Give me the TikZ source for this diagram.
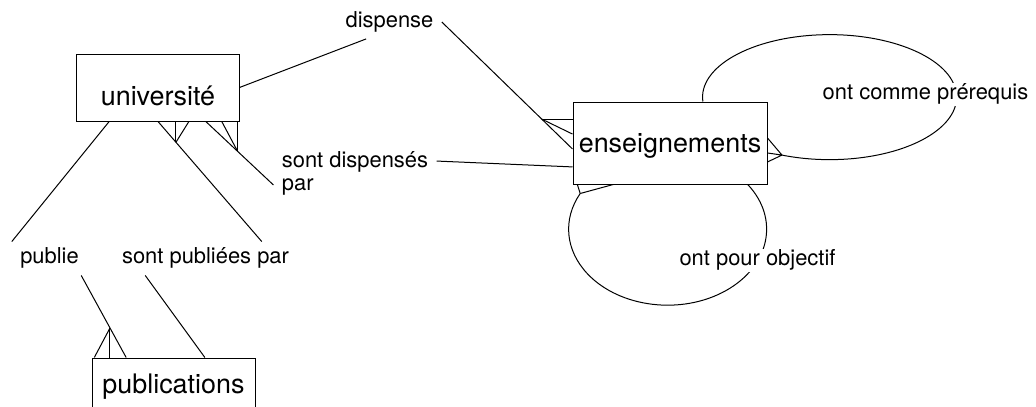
\documentclass[tikz,border=0pt]{standalone}
\usepackage{fontspec}
\setmainfont{TeX Gyre Heros}

\tikzset{
  entite/.style={draw, rectangle, inner sep=0pt, font=\fontsize{27}{30}\selectfont},
  lien/.style={inner xsep=8pt, inner ysep=6pt, text height=16pt, text depth=5pt, font=\fontsize{22}{23}\selectfont},
  boucle/.style={fill=white, inner xsep=2pt, inner ysep=1pt, text height=16pt, text depth=5pt, font=\fontsize{22}{23}\selectfont}
}

\begin{document}
\begin{tikzpicture}[x=1bp, y=-1bp, line width=1bp]
\useasboundingbox (0,0) rectangle (1036,406);
% entites
\node[entite, minimum width=162bp, minimum height=67bp, text height=35bp, text depth=0pt] (univ) at (158,87.5) {université};
\node[entite, minimum width=194bp, minimum height=82bp, text height=20bp, text depth=2bp] (ens) at (670,143) {enseignements};
\node[entite, minimum width=163bp, minimum height=56bp, text height=20bp, text depth=6bp] (pub) at (173.5,386) {publications};
% liens
\node[lien] (disp) at (389.5,22) {dispense};
\node[inner xsep=8pt, inner ysep=6pt, align=left, font=\fontsize{22}{23}\selectfont] (dispar) at (355,173) {sont dispensés\\par};
\node[lien] (publie) at (49.5,258.5) {publie};
\node[lien] (pubpar) at (205.5,258.5) {sont publiées par};

\draw (univ.east) -- ([xshift=-23.5pt]disp.south);
\draw (disp.east) -- ([yshift=-6pt]ens.west) coordinate[pos=0.765] (dispfoot);
\draw (dispfoot) -- (dispfoot -| ens.west);
\draw (dispfoot) -- ([yshift=9pt]ens.west);

\draw ([xshift=48pt]univ.south) -- ([yshift=-12pt]dispar.west) coordinate[pos=0.47] (dparfoot);
\draw (dparfoot) -- (dparfoot |- univ.south);
\draw (dparfoot) -- ([xshift=64pt]univ.south);
\draw ([yshift=12pt]dispar.east) -- ([yshift=-24pt]ens.west);

\draw ([xshift=-49pt]univ.south) -- (publie.north west);
\draw ([xshift=-6pt]publie.south east) -- ([xshift=-47.5pt]pub.north) coordinate[pos=0.64] (publiefoot);
\draw (publiefoot) -- (publiefoot |- pub.north);
\draw (publiefoot) -- ([xshift=-79.5pt]pub.north);

\draw (univ.south) -- ([xshift=56.5pt]pubpar.north) coordinate[pos=0.173] (pubparfoot);
\draw (pubparfoot) -- (pubparfoot |- univ.south);
\draw (pubparfoot) -- ([xshift=31pt]univ.south);
\draw ([xshift=-60.5pt]pubpar.south) -- ([xshift=31.5pt]pub.north);

% boucles
\draw ([xshift=33pt]ens.north) arc[start angle=176, end angle=472, x radius=127, y radius=62.5] coordinate (preqfoot);
\draw (preqfoot) -- ([yshift=5pt]ens.east) (preqfoot) -- ([yshift=-10pt]ens.east) (preqfoot) -- ([yshift=-19pt]ens.east);
\node[boucle] (preq) at (925.5,94.5) {ont comme prérequis};
\draw ([xshift=78pt]ens.south) arc[start angle=-36, end angle=208, x radius=99, y radius=76] coordinate (objfoot);
\draw (objfoot) -- ([xshift=-93pt]ens.south) (objfoot) -- ([xshift=-57pt]ens.south);
\node[boucle] (obj) at (757.5,260.5) {ont pour objectif};
\end{tikzpicture}
\end{document}
